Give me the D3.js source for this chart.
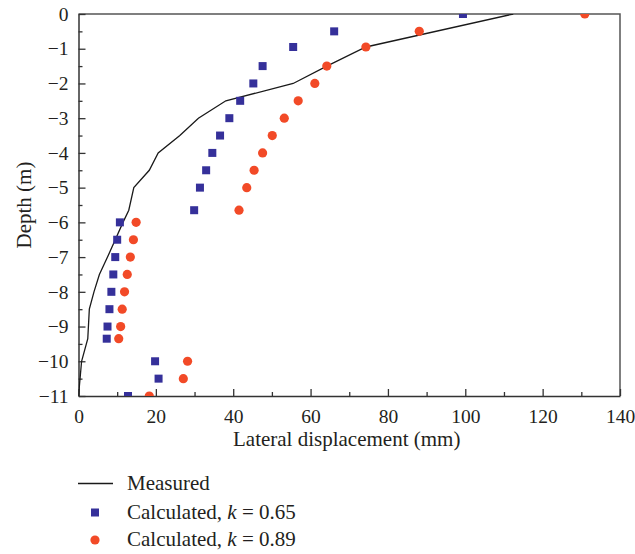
<!DOCTYPE html>
<html>
<head>
<meta charset="utf-8">
<script src="https://cdn.jsdelivr.net/npm/d3@7"></script>
<style>
	body { margin: 0; background: #fff; }
	text { font-family: "Liberation Serif", "DejaVu Serif", serif; fill: #231f20; }
</style>
</head>
<body>
<svg id="canvas" width="635" height="554"></svg>
<script>
// measured inclinometer profile (mm vs m)
var measuredDepth = [0, -0.95, -1.5, -2, -2.5, -3, -3.5, -4, -4.5, -5, -5.65, -6, -6.5, -7, -7.5, -8, -8.5, -9.35, -10, -11];
var measuredDisp  = [112.4, 74.3, 64.2, 55.5, 38.1, 31.0, 26.2, 20.6, 18.3, 14.3, 13.0, 11.5, 9.5, 7.5, 5.4, 4.0, 2.8, 2.4, 0.8, 0];

// calculated points, both k values share the same depths
var calcDepth = [0, -0.5, -0.95, -1.5, -2, -2.5, -3, -3.5, -4, -4.5, -5, -5.65, -6, -6.5, -7, -7.5, -8, -8.5, -9, -9.35, -10, -10.5, -11];
var calcK065  = [99.4, 66.1, 55.5, 47.6, 45.2, 41.8, 39.0, 36.6, 34.6, 33.0, 31.4, 29.9, 10.7, 10.0, 9.5, 9.0, 8.5, 8.0, 7.5, 7.3, 19.8, 20.7, 12.8];
var calcK089  = [130.9, 88.1, 74.3, 64.2, 61.1, 56.8, 53.2, 50.1, 47.6, 45.4, 43.5, 41.5, 14.9, 14.2, 13.4, 12.6, 11.9, 11.3, 10.9, 10.4, 28.2, 27.1, 18.3];

var xTicks = [0, 20, 40, 60, 80, 100, 120, 140];
var yTicks = [0, -1, -2, -3, -4, -5, -6, -7, -8, -9, -10, -11];

var blue = '#35309a';
var red = '#f24a27';
var tickFont = '19.5px';
var labelFont = '21px';

var margin = { left: 78.5, top: 14, right: 15, bottom: 158 };
var innerWidth = 635 - margin.left - margin.right;
var innerHeight = 554 - margin.top - margin.bottom;

var x = d3.scaleLinear().domain([0, 140]).range([0, innerWidth]);
var y = d3.scaleLinear().domain([-11, 0]).range([innerHeight, 0]);

var svg = d3.select('#canvas');
var g = svg.append('g')
	.attr('transform', 'translate(' + margin.left + ',' + margin.top + ')');

g.append('clipPath').attr('id', 'plotClip')
	.append('rect').attr('width', innerWidth).attr('height', innerHeight);

// top + right frame
g.append('path')
	.attr('d', 'M0,0H' + innerWidth + 'V' + innerHeight)
	.attr('fill', 'none').attr('stroke', '#555').attr('stroke-width', 1.5);

// minor ticks first, then the labelled ones (inside ticks)
var xMinor = d3.range(10, 140, 20);
var yMinor = d3.range(-0.5, -11, -1);

g.append('g')
	.attr('transform', 'translate(0,' + innerHeight + ')')
	.call(d3.axisTop(x).tickValues(xMinor).tickSize(4).tickFormat(''))
	.call(a => a.select('.domain').remove())
	.selectAll('line').attr('stroke', '#333').attr('stroke-width', 1.3);
g.append('g')
	.call(d3.axisRight(y).tickValues(yMinor).tickSize(4).tickFormat(''))
	.call(a => a.select('.domain').remove())
	.selectAll('line').attr('stroke', '#333').attr('stroke-width', 1.3);

var xAxis = g.append('g')
	.attr('transform', 'translate(0,' + innerHeight + ')')
	.call(d3.axisBottom(x).tickValues(xTicks).tickSizeInner(-7).tickSizeOuter(0).tickPadding(13));
xAxis.select('.domain').attr('stroke', '#333').attr('stroke-width', 1.5);
xAxis.selectAll('line').attr('stroke', '#333').attr('stroke-width', 1.3);
xAxis.selectAll('text').style('font-size', tickFont).attr('fill', '#231f20')
	.style('font-family', '"Liberation Serif", serif');

var yAxis = g.append('g')
	.call(d3.axisLeft(y).tickValues(yTicks).tickSizeInner(-7).tickSizeOuter(0).tickPadding(10));
yAxis.select('.domain').attr('stroke', '#333').attr('stroke-width', 1.5);
yAxis.selectAll('line').attr('stroke', '#333').attr('stroke-width', 1.3);
yAxis.selectAll('text').style('font-size', tickFont).attr('fill', '#231f20')
	.style('font-family', '"Liberation Serif", serif');

// axis titles
svg.append('text')
	.attr('x', 233).attr('y', 446)
	.style('font-size', labelFont)
	.text('Lateral displacement (mm)');
svg.append('text')
	.attr('transform', 'translate(31,205) rotate(-90)')
	.style('text-anchor', 'middle')
	.style('font-size', labelFont)
	.text('Depth (m)');

var plot = g.append('g').attr('clip-path', 'url(#plotClip)');

// measured line
var measured = measuredDepth.map((d, i) => ({ depth: d, disp: measuredDisp[i] }));
var line = d3.line().x(d => x(d.disp)).y(d => y(d.depth));
plot.append('path')
	.attr('d', line(measured))
	.attr('fill', 'none').attr('stroke', '#1a1a1a').attr('stroke-width', 1.3);

// calculated markers
var sq = 8;
plot.selectAll('rect.k065')
	.data(calcDepth.map((d, i) => ({ depth: d, disp: calcK065[i] })))
	.enter().append('rect')
	.attr('class', 'k065')
	.attr('x', d => x(d.disp) - sq / 2)
	.attr('y', d => y(d.depth) - sq / 2)
	.attr('width', sq).attr('height', sq)
	.attr('fill', blue);

plot.selectAll('circle.k089')
	.data(calcDepth.map((d, i) => ({ depth: d, disp: calcK089[i] })))
	.enter().append('circle')
	.attr('class', 'k089')
	.attr('cx', d => x(d.disp))
	.attr('cy', d => y(d.depth))
	.attr('r', 4.6)
	.attr('fill', red);

// legend
var legend = svg.append('g');
legend.append('line')
	.attr('x1', 78).attr('x2', 113).attr('y1', 483.5).attr('y2', 483.5)
	.attr('stroke', '#1a1a1a').attr('stroke-width', 1.3);
legend.append('rect')
	.attr('x', 95 - sq / 2).attr('y', 512.5 - sq / 2).attr('width', sq).attr('height', sq)
	.attr('fill', blue);
legend.append('circle')
	.attr('cx', 95).attr('cy', 540).attr('r', 4.6).attr('fill', red);

legend.append('text').attr('x', 127).attr('y', 490).style('font-size', labelFont).text('Measured');
var t1 = legend.append('text').attr('x', 127).attr('y', 519).style('font-size', labelFont);
t1.append('tspan').text('Calculated, ');
t1.append('tspan').style('font-style', 'italic').text('k');
t1.append('tspan').text(' = 0.65');
var t2 = legend.append('text').attr('x', 127).attr('y', 546).style('font-size', labelFont);
t2.append('tspan').text('Calculated, ');
t2.append('tspan').style('font-style', 'italic').text('k');
t2.append('tspan').text(' = 0.89');
</script>
</body>
</html>
